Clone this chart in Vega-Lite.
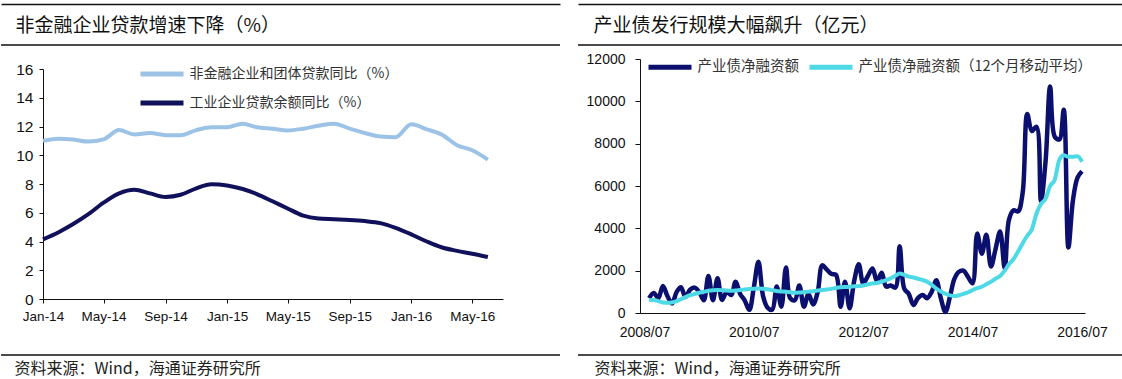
{
  "$schema": "https://vega.github.io/schema/vega-lite/v6.json",
  "padding": {"left": 0, "top": 3, "right": 0, "bottom": 0},
  "spacing": 15,
  "background": "white",
  "resolve": {"scale": {"color": "independent"}, "legend": {"color": "independent"}},
  "config": {
    "font": "Noto Sans CJK SC",
    "axis": {"labelFont": "Liberation Sans", "labelColor": "#111", "domainColor": "#111", "tickColor": "#111", "grid": false, "titleFont": "Noto Sans CJK SC", "titleFontWeight": "normal", "titleColor": "#111"},
    "legend": {"labelFont": "Noto Sans CJK SC", "labelColor": "#333", "padding": 0, "labelLimit": 400}
  },
  "datasets": {
    "left": [
      {"date": "2014-01-01", "series": "非金融企业和团体贷款同比（%）", "value": 11.0},
      {"date": "2014-02-01", "series": "非金融企业和团体贷款同比（%）", "value": 11.15},
      {"date": "2014-03-01", "series": "非金融企业和团体贷款同比（%）", "value": 11.1},
      {"date": "2014-04-01", "series": "非金融企业和团体贷款同比（%）", "value": 10.95},
      {"date": "2014-05-01", "series": "非金融企业和团体贷款同比（%）", "value": 11.1},
      {"date": "2014-06-01", "series": "非金融企业和团体贷款同比（%）", "value": 11.75},
      {"date": "2014-07-01", "series": "非金融企业和团体贷款同比（%）", "value": 11.45},
      {"date": "2014-08-01", "series": "非金融企业和团体贷款同比（%）", "value": 11.55},
      {"date": "2014-09-01", "series": "非金融企业和团体贷款同比（%）", "value": 11.4},
      {"date": "2014-10-01", "series": "非金融企业和团体贷款同比（%）", "value": 11.4},
      {"date": "2014-11-01", "series": "非金融企业和团体贷款同比（%）", "value": 11.75},
      {"date": "2014-12-01", "series": "非金融企业和团体贷款同比（%）", "value": 11.95},
      {"date": "2015-01-01", "series": "非金融企业和团体贷款同比（%）", "value": 11.95},
      {"date": "2015-02-01", "series": "非金融企业和团体贷款同比（%）", "value": 12.2},
      {"date": "2015-03-01", "series": "非金融企业和团体贷款同比（%）", "value": 11.95},
      {"date": "2015-04-01", "series": "非金融企业和团体贷款同比（%）", "value": 11.85},
      {"date": "2015-05-01", "series": "非金融企业和团体贷款同比（%）", "value": 11.72},
      {"date": "2015-06-01", "series": "非金融企业和团体贷款同比（%）", "value": 11.85},
      {"date": "2015-07-01", "series": "非金融企业和团体贷款同比（%）", "value": 12.05},
      {"date": "2015-08-01", "series": "非金融企业和团体贷款同比（%）", "value": 12.2},
      {"date": "2015-09-01", "series": "非金融企业和团体贷款同比（%）", "value": 11.85},
      {"date": "2015-10-01", "series": "非金融企业和团体贷款同比（%）", "value": 11.55},
      {"date": "2015-11-01", "series": "非金融企业和团体贷款同比（%）", "value": 11.3},
      {"date": "2015-12-01", "series": "非金融企业和团体贷款同比（%）", "value": 11.25},
      {"date": "2016-01-01", "series": "非金融企业和团体贷款同比（%）", "value": 12.15},
      {"date": "2016-02-01", "series": "非金融企业和团体贷款同比（%）", "value": 11.8},
      {"date": "2016-03-01", "series": "非金融企业和团体贷款同比（%）", "value": 11.45},
      {"date": "2016-04-01", "series": "非金融企业和团体贷款同比（%）", "value": 10.7},
      {"date": "2016-05-01", "series": "非金融企业和团体贷款同比（%）", "value": 10.35},
      {"date": "2016-06-01", "series": "非金融企业和团体贷款同比（%）", "value": 9.7},
      {"date": "2014-01-01", "series": "工业企业贷款余额同比（%）", "value": 4.15},
      {"date": "2014-02-01", "series": "工业企业贷款余额同比（%）", "value": 4.65},
      {"date": "2014-03-01", "series": "工业企业贷款余额同比（%）", "value": 5.2},
      {"date": "2014-04-01", "series": "工业企业贷款余额同比（%）", "value": 5.9},
      {"date": "2014-05-01", "series": "工业企业贷款余额同比（%）", "value": 6.7},
      {"date": "2014-06-01", "series": "工业企业贷款余额同比（%）", "value": 7.35},
      {"date": "2014-07-01", "series": "工业企业贷款余额同比（%）", "value": 7.6},
      {"date": "2014-08-01", "series": "工业企业贷款余额同比（%）", "value": 7.35},
      {"date": "2014-09-01", "series": "工业企业贷款余额同比（%）", "value": 7.1},
      {"date": "2014-10-01", "series": "工业企业贷款余额同比（%）", "value": 7.25},
      {"date": "2014-11-01", "series": "工业企业贷款余额同比（%）", "value": 7.7},
      {"date": "2014-12-01", "series": "工业企业贷款余额同比（%）", "value": 7.98},
      {"date": "2015-01-01", "series": "工业企业贷款余额同比（%）", "value": 7.9},
      {"date": "2015-02-01", "series": "工业企业贷款余额同比（%）", "value": 7.65},
      {"date": "2015-03-01", "series": "工业企业贷款余额同比（%）", "value": 7.3},
      {"date": "2015-04-01", "series": "工业企业贷款余额同比（%）", "value": 6.8},
      {"date": "2015-05-01", "series": "工业企业贷款余额同比（%）", "value": 6.3},
      {"date": "2015-06-01", "series": "工业企业贷款余额同比（%）", "value": 5.8},
      {"date": "2015-07-01", "series": "工业企业贷款余额同比（%）", "value": 5.6},
      {"date": "2015-08-01", "series": "工业企业贷款余额同比（%）", "value": 5.55},
      {"date": "2015-09-01", "series": "工业企业贷款余额同比（%）", "value": 5.5},
      {"date": "2015-10-01", "series": "工业企业贷款余额同比（%）", "value": 5.42},
      {"date": "2015-11-01", "series": "工业企业贷款余额同比（%）", "value": 5.28},
      {"date": "2015-12-01", "series": "工业企业贷款余额同比（%）", "value": 4.95},
      {"date": "2016-01-01", "series": "工业企业贷款余额同比（%）", "value": 4.5},
      {"date": "2016-02-01", "series": "工业企业贷款余额同比（%）", "value": 4.0},
      {"date": "2016-03-01", "series": "工业企业贷款余额同比（%）", "value": 3.6},
      {"date": "2016-04-01", "series": "工业企业贷款余额同比（%）", "value": 3.35},
      {"date": "2016-05-01", "series": "工业企业贷款余额同比（%）", "value": 3.15},
      {"date": "2016-06-01", "series": "工业企业贷款余额同比（%）", "value": 2.92}
    ],
    "right": [
      {"date": "2008-08-01", "series": "产业债净融资额", "value": 700},
      {"date": "2008-09-01", "series": "产业债净融资额", "value": 950},
      {"date": "2008-10-01", "series": "产业债净融资额", "value": 700},
      {"date": "2008-11-01", "series": "产业债净融资额", "value": 1280},
      {"date": "2008-12-01", "series": "产业债净融资额", "value": 800},
      {"date": "2009-01-01", "series": "产业债净融资额", "value": 450},
      {"date": "2009-02-01", "series": "产业债净融资额", "value": 1000},
      {"date": "2009-03-01", "series": "产业债净融资额", "value": 1220},
      {"date": "2009-04-01", "series": "产业债净融资额", "value": 750},
      {"date": "2009-05-01", "series": "产业债净融资额", "value": 1100},
      {"date": "2009-06-01", "series": "产业债净融资额", "value": 1200},
      {"date": "2009-07-01", "series": "产业债净融资额", "value": 1000},
      {"date": "2009-08-01", "series": "产业债净融资额", "value": 600},
      {"date": "2009-09-01", "series": "产业债净融资额", "value": 1750},
      {"date": "2009-10-01", "series": "产业债净融资额", "value": 600},
      {"date": "2009-11-01", "series": "产业债净融资额", "value": 1640},
      {"date": "2009-12-01", "series": "产业债净融资额", "value": 620},
      {"date": "2010-01-01", "series": "产业债净融资额", "value": 1000},
      {"date": "2010-02-01", "series": "产业债净融资额", "value": 850},
      {"date": "2010-03-01", "series": "产业债净融资额", "value": 1480},
      {"date": "2010-04-01", "series": "产业债净融资额", "value": 900},
      {"date": "2010-05-01", "series": "产业债净融资额", "value": 600},
      {"date": "2010-06-01", "series": "产业债净融资额", "value": 150},
      {"date": "2010-07-01", "series": "产业债净融资额", "value": 1200},
      {"date": "2010-08-01", "series": "产业债净融资额", "value": 2420},
      {"date": "2010-09-01", "series": "产业债净融资额", "value": 800},
      {"date": "2010-10-01", "series": "产业债净融资额", "value": 250},
      {"date": "2010-11-01", "series": "产业债净融资额", "value": 150},
      {"date": "2010-12-01", "series": "产业债净融资额", "value": 1250},
      {"date": "2011-01-01", "series": "产业债净融资额", "value": 300},
      {"date": "2011-02-01", "series": "产业债净融资额", "value": 2150},
      {"date": "2011-03-01", "series": "产业债净融资额", "value": 700},
      {"date": "2011-04-01", "series": "产业债净融资额", "value": 600},
      {"date": "2011-05-01", "series": "产业债净融资额", "value": 1300},
      {"date": "2011-06-01", "series": "产业债净融资额", "value": 300},
      {"date": "2011-07-01", "series": "产业债净融资额", "value": 900},
      {"date": "2011-08-01", "series": "产业债净融资额", "value": 400},
      {"date": "2011-09-01", "series": "产业债净融资额", "value": 1000},
      {"date": "2011-10-01", "series": "产业债净融资额", "value": 2250},
      {"date": "2011-11-01", "series": "产业债净融资额", "value": 2050},
      {"date": "2011-12-01", "series": "产业债净融资额", "value": 1850},
      {"date": "2012-01-01", "series": "产业债净融资额", "value": 1800},
      {"date": "2012-02-01", "series": "产业债净融资额", "value": 300},
      {"date": "2012-03-01", "series": "产业债净融资额", "value": 1480},
      {"date": "2012-04-01", "series": "产业债净融资额", "value": 220},
      {"date": "2012-05-01", "series": "产业债净融资额", "value": 1500},
      {"date": "2012-06-01", "series": "产业债净融资额", "value": 2300},
      {"date": "2012-07-01", "series": "产业债净融资额", "value": 1400},
      {"date": "2012-08-01", "series": "产业债净融资额", "value": 1750},
      {"date": "2012-09-01", "series": "产业债净融资额", "value": 2100},
      {"date": "2012-10-01", "series": "产业债净融资额", "value": 1500},
      {"date": "2012-11-01", "series": "产业债净融资额", "value": 1900},
      {"date": "2012-12-01", "series": "产业债净融资额", "value": 1250},
      {"date": "2013-01-01", "series": "产业债净融资额", "value": 1300},
      {"date": "2013-02-01", "series": "产业债净融资额", "value": 1200},
      {"date": "2013-03-01", "series": "产业债净融资额", "value": 3150},
      {"date": "2013-04-01", "series": "产业债净融资额", "value": 1150},
      {"date": "2013-05-01", "series": "产业债净融资额", "value": 900},
      {"date": "2013-06-01", "series": "产业债净融资额", "value": 380},
      {"date": "2013-07-01", "series": "产业债净融资额", "value": 700},
      {"date": "2013-08-01", "series": "产业债净融资额", "value": 850},
      {"date": "2013-09-01", "series": "产业债净融资额", "value": 700},
      {"date": "2013-10-01", "series": "产业债净融资额", "value": 1000},
      {"date": "2013-11-01", "series": "产业债净融资额", "value": 1550},
      {"date": "2013-12-01", "series": "产业债净融资额", "value": 700},
      {"date": "2014-01-01", "series": "产业债净融资额", "value": 50},
      {"date": "2014-02-01", "series": "产业债净融资额", "value": 800},
      {"date": "2014-03-01", "series": "产业债净融资额", "value": 1600},
      {"date": "2014-04-01", "series": "产业债净融资额", "value": 1950},
      {"date": "2014-05-01", "series": "产业债净融资额", "value": 2000},
      {"date": "2014-06-01", "series": "产业债净融资额", "value": 1700},
      {"date": "2014-07-01", "series": "产业债净融资额", "value": 1400},
      {"date": "2014-08-01", "series": "产业债净融资额", "value": 3750},
      {"date": "2014-09-01", "series": "产业债净融资额", "value": 2800},
      {"date": "2014-10-01", "series": "产业债净融资额", "value": 3700},
      {"date": "2014-11-01", "series": "产业债净融资额", "value": 2200},
      {"date": "2014-12-01", "series": "产业债净融资额", "value": 3000},
      {"date": "2015-01-01", "series": "产业债净融资额", "value": 3850},
      {"date": "2015-02-01", "series": "产业债净融资额", "value": 2100},
      {"date": "2015-03-01", "series": "产业债净融资额", "value": 4400},
      {"date": "2015-04-01", "series": "产业债净融资额", "value": 4850},
      {"date": "2015-05-01", "series": "产业债净融资额", "value": 4800},
      {"date": "2015-06-01", "series": "产业债净融资额", "value": 5700},
      {"date": "2015-07-01", "series": "产业债净融资额", "value": 9400},
      {"date": "2015-08-01", "series": "产业债净融资额", "value": 8600},
      {"date": "2015-09-01", "series": "产业债净融资额", "value": 8800},
      {"date": "2015-10-01", "series": "产业债净融资额", "value": 5300},
      {"date": "2015-11-01", "series": "产业债净融资额", "value": 7200},
      {"date": "2015-12-01", "series": "产业债净融资额", "value": 10700},
      {"date": "2016-01-01", "series": "产业债净融资额", "value": 8330},
      {"date": "2016-02-01", "series": "产业债净融资额", "value": 8200},
      {"date": "2016-03-01", "series": "产业债净融资额", "value": 9600},
      {"date": "2016-04-01", "series": "产业债净融资额", "value": 3100},
      {"date": "2016-05-01", "series": "产业债净融资额", "value": 5300},
      {"date": "2016-06-01", "series": "产业债净融资额", "value": 6400},
      {"date": "2016-07-01", "series": "产业债净融资额", "value": 6700},
      {"date": "2008-08-01", "series": "产业债净融资额（12个月移动平均）", "value": 600},
      {"date": "2008-09-01", "series": "产业债净融资额（12个月移动平均）", "value": 620},
      {"date": "2008-10-01", "series": "产业债净融资额（12个月移动平均）", "value": 560},
      {"date": "2008-11-01", "series": "产业债净融资额（12个月移动平均）", "value": 500},
      {"date": "2008-12-01", "series": "产业债净融资额（12个月移动平均）", "value": 480},
      {"date": "2009-01-01", "series": "产业债净融资额（12个月移动平均）", "value": 500},
      {"date": "2009-02-01", "series": "产业债净融资额（12个月移动平均）", "value": 560},
      {"date": "2009-03-01", "series": "产业债净融资额（12个月移动平均）", "value": 650},
      {"date": "2009-04-01", "series": "产业债净融资额（12个月移动平均）", "value": 750},
      {"date": "2009-05-01", "series": "产业债净融资额（12个月移动平均）", "value": 840},
      {"date": "2009-06-01", "series": "产业债净融资额（12个月移动平均）", "value": 900},
      {"date": "2009-07-01", "series": "产业债净融资额（12个月移动平均）", "value": 960},
      {"date": "2009-08-01", "series": "产业债净融资额（12个月移动平均）", "value": 1000},
      {"date": "2009-09-01", "series": "产业债净融资额（12个月移动平均）", "value": 1050},
      {"date": "2009-10-01", "series": "产业债净融资额（12个月移动平均）", "value": 1080},
      {"date": "2009-11-01", "series": "产业债净融资额（12个月移动平均）", "value": 1090},
      {"date": "2009-12-01", "series": "产业债净融资额（12个月移动平均）", "value": 1080},
      {"date": "2010-01-01", "series": "产业债净融资额（12个月移动平均）", "value": 1060},
      {"date": "2010-02-01", "series": "产业债净融资额（12个月移动平均）", "value": 1050},
      {"date": "2010-03-01", "series": "产业债净融资额（12个月移动平均）", "value": 1060},
      {"date": "2010-04-01", "series": "产业债净融资额（12个月移动平均）", "value": 1090},
      {"date": "2010-05-01", "series": "产业债净融资额（12个月移动平均）", "value": 1110},
      {"date": "2010-06-01", "series": "产业债净融资额（12个月移动平均）", "value": 1130},
      {"date": "2010-07-01", "series": "产业债净融资额（12个月移动平均）", "value": 1150},
      {"date": "2010-08-01", "series": "产业债净融资额（12个月移动平均）", "value": 1160},
      {"date": "2010-09-01", "series": "产业债净融资额（12个月移动平均）", "value": 1150},
      {"date": "2010-10-01", "series": "产业债净融资额（12个月移动平均）", "value": 1120},
      {"date": "2010-11-01", "series": "产业债净融资额（12个月移动平均）", "value": 1080},
      {"date": "2010-12-01", "series": "产业债净融资额（12个月移动平均）", "value": 1040},
      {"date": "2011-01-01", "series": "产业债净融资额（12个月移动平均）", "value": 1020},
      {"date": "2011-02-01", "series": "产业债净融资额（12个月移动平均）", "value": 1000},
      {"date": "2011-03-01", "series": "产业债净融资额（12个月移动平均）", "value": 980},
      {"date": "2011-04-01", "series": "产业债净融资额（12个月移动平均）", "value": 960},
      {"date": "2011-05-01", "series": "产业债净融资额（12个月移动平均）", "value": 970},
      {"date": "2011-06-01", "series": "产业债净融资额（12个月移动平均）", "value": 990},
      {"date": "2011-07-01", "series": "产业债净融资额（12个月移动平均）", "value": 1010},
      {"date": "2011-08-01", "series": "产业债净融资额（12个月移动平均）", "value": 1030},
      {"date": "2011-09-01", "series": "产业债净融资额（12个月移动平均）", "value": 1060},
      {"date": "2011-10-01", "series": "产业债净融资额（12个月移动平均）", "value": 1090},
      {"date": "2011-11-01", "series": "产业债净融资额（12个月移动平均）", "value": 1110},
      {"date": "2011-12-01", "series": "产业债净融资额（12个月移动平均）", "value": 1140},
      {"date": "2012-01-01", "series": "产业债净融资额（12个月移动平均）", "value": 1190},
      {"date": "2012-02-01", "series": "产业债净融资额（12个月移动平均）", "value": 1220},
      {"date": "2012-03-01", "series": "产业债净融资额（12个月移动平均）", "value": 1230},
      {"date": "2012-04-01", "series": "产业债净融资额（12个月移动平均）", "value": 1240},
      {"date": "2012-05-01", "series": "产业债净融资额（12个月移动平均）", "value": 1260},
      {"date": "2012-06-01", "series": "产业债净融资额（12个月移动平均）", "value": 1270},
      {"date": "2012-07-01", "series": "产业债净融资额（12个月移动平均）", "value": 1300},
      {"date": "2012-08-01", "series": "产业债净融资额（12个月移动平均）", "value": 1350},
      {"date": "2012-09-01", "series": "产业债净融资额（12个月移动平均）", "value": 1400},
      {"date": "2012-10-01", "series": "产业债净融资额（12个月移动平均）", "value": 1420},
      {"date": "2012-11-01", "series": "产业债净融资额（12个月移动平均）", "value": 1480},
      {"date": "2012-12-01", "series": "产业债净融资额（12个月移动平均）", "value": 1550},
      {"date": "2013-01-01", "series": "产业债净融资额（12个月移动平均）", "value": 1640},
      {"date": "2013-02-01", "series": "产业债净融资额（12个月移动平均）", "value": 1760},
      {"date": "2013-03-01", "series": "产业债净融资额（12个月移动平均）", "value": 1870},
      {"date": "2013-04-01", "series": "产业债净融资额（12个月移动平均）", "value": 1800},
      {"date": "2013-05-01", "series": "产业债净融资额（12个月移动平均）", "value": 1720},
      {"date": "2013-06-01", "series": "产业债净融资额（12个月移动平均）", "value": 1680},
      {"date": "2013-07-01", "series": "产业债净融资额（12个月移动平均）", "value": 1620},
      {"date": "2013-08-01", "series": "产业债净融资额（12个月移动平均）", "value": 1560},
      {"date": "2013-09-01", "series": "产业债净融资额（12个月移动平均）", "value": 1480},
      {"date": "2013-10-01", "series": "产业债净融资额（12个月移动平均）", "value": 1330},
      {"date": "2013-11-01", "series": "产业债净融资额（12个月移动平均）", "value": 1150},
      {"date": "2013-12-01", "series": "产业债净融资额（12个月移动平均）", "value": 1020},
      {"date": "2014-01-01", "series": "产业债净融资额（12个月移动平均）", "value": 910},
      {"date": "2014-02-01", "series": "产业债净融资额（12个月移动平均）", "value": 830},
      {"date": "2014-03-01", "series": "产业债净融资额（12个月移动平均）", "value": 800},
      {"date": "2014-04-01", "series": "产业债净融资额（12个月移动平均）", "value": 840},
      {"date": "2014-05-01", "series": "产业债净融资额（12个月移动平均）", "value": 900},
      {"date": "2014-06-01", "series": "产业债净融资额（12个月移动平均）", "value": 980},
      {"date": "2014-07-01", "series": "产业债净融资额（12个月移动平均）", "value": 1080},
      {"date": "2014-08-01", "series": "产业债净融资额（12个月移动平均）", "value": 1170},
      {"date": "2014-09-01", "series": "产业债净融资额（12个月移动平均）", "value": 1240},
      {"date": "2014-10-01", "series": "产业债净融资额（12个月移动平均）", "value": 1360},
      {"date": "2014-11-01", "series": "产业债净融资额（12个月移动平均）", "value": 1480},
      {"date": "2014-12-01", "series": "产业债净融资额（12个月移动平均）", "value": 1620},
      {"date": "2015-01-01", "series": "产业债净融资额（12个月移动平均）", "value": 1750},
      {"date": "2015-02-01", "series": "产业债净融资额（12个月移动平均）", "value": 2000},
      {"date": "2015-03-01", "series": "产业债净融资额（12个月移动平均）", "value": 2300},
      {"date": "2015-04-01", "series": "产业债净融资额（12个月移动平均）", "value": 2550},
      {"date": "2015-05-01", "series": "产业债净融资额（12个月移动平均）", "value": 2900},
      {"date": "2015-06-01", "series": "产业债净融资额（12个月移动平均）", "value": 3300},
      {"date": "2015-07-01", "series": "产业债净融资额（12个月移动平均）", "value": 3650},
      {"date": "2015-08-01", "series": "产业债净融资额（12个月移动平均）", "value": 3950},
      {"date": "2015-09-01", "series": "产业债净融资额（12个月移动平均）", "value": 4700},
      {"date": "2015-10-01", "series": "产业债净融资额（12个月移动平均）", "value": 5150},
      {"date": "2015-11-01", "series": "产业债净融资额（12个月移动平均）", "value": 5400},
      {"date": "2015-12-01", "series": "产业债净融资额（12个月移动平均）", "value": 6000},
      {"date": "2016-01-01", "series": "产业债净融资额（12个月移动平均）", "value": 6300},
      {"date": "2016-02-01", "series": "产业债净融资额（12个月移动平均）", "value": 7250},
      {"date": "2016-03-01", "series": "产业债净融资额（12个月移动平均）", "value": 7450},
      {"date": "2016-04-01", "series": "产业债净融资额（12个月移动平均）", "value": 7380},
      {"date": "2016-05-01", "series": "产业债净融资额（12个月移动平均）", "value": 7380},
      {"date": "2016-06-01", "series": "产业债净融资额（12个月移动平均）", "value": 7400},
      {"date": "2016-07-01", "series": "产业债净融资额（12个月移动平均）", "value": 7150}
    ]
  },
  "hconcat": [
    {
      "width": 559,
      "height": 310,
      "view": {"stroke": "#111", "strokeWidth": 1.5, "strokeDash": [559, 310]},
      "data": {"name": "left"},
      "layer": [
        {
          "mark": {"type": "line", "strokeWidth": 4, "interpolate": "monotone"},
          "encoding": {
            "x": {
              "field": "date", "type": "temporal",
              "scale": {"type": "utc", "domain": [{"year": 2014, "month": 1, "date": 1, "utc": true}, {"year": 2016, "month": 7, "date": 1, "utc": true}], "range": [42, 502]},
              "axis": {
                "orient": "bottom", "offset": -56,
                "values": [
                  {"year": 2014, "month": 1, "date": 1, "utc": true},
                  {"year": 2014, "month": 5, "date": 1, "utc": true},
                  {"year": 2014, "month": 9, "date": 1, "utc": true},
                  {"year": 2015, "month": 1, "date": 1, "utc": true},
                  {"year": 2015, "month": 5, "date": 1, "utc": true},
                  {"year": 2015, "month": 9, "date": 1, "utc": true},
                  {"year": 2016, "month": 1, "date": 1, "utc": true},
                  {"year": 2016, "month": 5, "date": 1, "utc": true}
                ],
                "labelExpr": "utcFormat(datum.value, '%b-%y')",
                "tickSize": 4, "labelFontSize": 13.5, "labelPadding": 6, "labelFlush": false, "labelOverlap": false,
                "domainWidth": 1,
                "title": "资料来源：Wind，海通证券研究所",
                "titleX": 13, "titleY": 69, "titleAlign": "left", "titleBaseline": "middle", "titleFontSize": 16, "titleColor": "#222"
              }
            },
            "y": {
              "field": "value", "type": "quantitative",
              "scale": {"domain": [0, 16], "range": [254, 24]},
              "axis": {"offset": -42, "values": [0, 2, 4, 6, 8, 10, 12, 14, 16], "tickSize": 4, "labelPadding": 6, "labelFontSize": 15.5, "title": null, "domainWidth": 1}
            },
            "color": {
              "field": "series", "type": "nominal",
              "scale": {"domain": ["非金融企业和团体贷款同比（%）", "工业企业贷款余额同比（%）"], "range": ["#9cc3e6", "#10115a"]},
              "legend": {"orient": "none", "legendX": 147.5, "legendY": 15.5, "direction": "vertical", "title": null, "symbolType": "M-2,0H2", "symbolSize": 462, "symbolStrokeWidth": 5, "labelFontSize": 14, "labelOffset": 14, "rowPadding": 5}
            }
          }
        },
        {
          "mark": {"type": "point", "opacity": 0},
          "encoding": {
            "x": {
              "field": "value", "type": "quantitative",
              "scale": {"range": [0, 559]},
              "axis": {"orient": "top", "offset": 41, "labels": false, "ticks": false, "domainWidth": 1.5, "title": "非金融企业贷款增速下降（%）", "titleX": 14, "titleY": 21, "titleAlign": "left", "titleBaseline": "middle", "titleFontSize": 19}
            }
          }
        }
      ],
      "resolve": {"scale": {"x": "independent"}, "axis": {"x": "independent"}}
    },
    {
      "width": 547,
      "height": 310,
      "view": {"stroke": "#111", "strokeWidth": 1.5, "strokeDash": [547, 310]},
      "data": {"name": "right"},
      "layer": [
        {
          "encoding": {
            "x": {
              "field": "date", "type": "temporal",
              "scale": {"type": "utc", "domain": [{"year": 2008, "month": 6, "date": 1, "utc": true}, {"year": 2016, "month": 7, "date": 21, "utc": true}], "range": [62, 507]},
              "axis": {
                "orient": "bottom", "offset": -42,
                "values": [
                  {"year": 2008, "month": 7, "date": 1, "utc": true},
                  {"year": 2010, "month": 7, "date": 1, "utc": true},
                  {"year": 2012, "month": 7, "date": 1, "utc": true},
                  {"year": 2014, "month": 7, "date": 1, "utc": true},
                  {"year": 2016, "month": 7, "date": 1, "utc": true}
                ],
                "labelExpr": "utcFormat(datum.value, '%Y/%m')",
                "tickSize": 0, "labelFontSize": 14, "labelPadding": 12, "labelFlush": false, "labelOverlap": false,
                "domainWidth": 1,
                "title": "资料来源：Wind，海通证券研究所",
                "titleX": 16, "titleY": 55, "titleAlign": "left", "titleBaseline": "middle", "titleFontSize": 16, "titleColor": "#222"
              }
            },
            "y": {
              "field": "value", "type": "quantitative",
              "scale": {"domain": [0, 12000], "range": [268, 14]},
              "axis": {"offset": -62, "values": [0, 2000, 4000, 6000, 8000, 10000, 12000], "format": "d", "tickSize": 5, "labelPadding": 10, "labelFontSize": 14, "title": null, "domainWidth": 1}
            },
            "color": {
              "field": "series", "type": "nominal",
              "scale": {"domain": ["产业债净融资额", "产业债净融资额（12个月移动平均）"], "range": ["#0b0f6e", "#4dd9e6"]},
              "legend": {"orient": "none", "legendX": 78.5, "legendY": 8.5, "direction": "horizontal", "title": null, "symbolType": "M-2,0H2", "symbolSize": 462, "symbolStrokeWidth": 5, "labelFontSize": 14.5, "labelOffset": 14, "columnPadding": 0}
            }
          },
          "layer": [
            {
              "transform": [{"filter": "datum.series === '产业债净融资额'"}],
              "mark": {"type": "line", "strokeWidth": 4.5, "interpolate": "catmull-rom"}
            },
            {
              "transform": [{"filter": "datum.series !== '产业债净融资额'"}],
              "mark": {"type": "line", "strokeWidth": 4, "interpolate": "monotone"}
            }
          ]
        },
        {
          "mark": {"type": "point", "opacity": 0},
          "encoding": {
            "x": {
              "field": "value", "type": "quantitative",
              "scale": {"range": [0, 547]},
              "axis": {"orient": "top", "offset": 41, "labels": false, "ticks": false, "domainWidth": 1.5, "title": "产业债发行规模大幅飙升（亿元）", "titleX": 15, "titleY": 21, "titleAlign": "left", "titleBaseline": "middle", "titleFontSize": 19}
            }
          }
        }
      ],
      "resolve": {"scale": {"x": "independent"}, "axis": {"x": "independent"}}
    }
  ]
}
